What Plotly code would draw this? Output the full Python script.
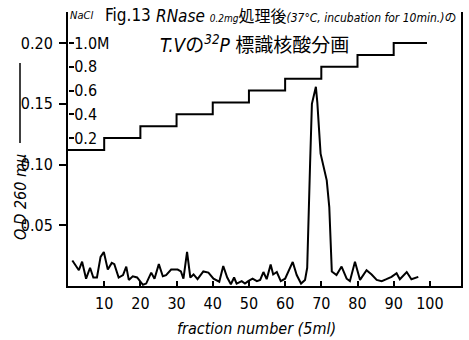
import plotly.graph_objects as go

# ---- data ----
fraction = [1.2, 3.0, 3.9, 5.0, 6.1, 7.0, 8.0, 9.0, 9.9, 11.0, 12.1, 12.8, 14.0, 15.2,
            16.1, 16.8, 17.9, 19.1, 20.7, 21.6, 23.0, 23.9, 25.1, 26.2, 27.1, 28.5,
            30.3, 31.2, 31.9, 32.9, 33.8, 34.7, 35.8, 37.4, 38.8, 40.2, 41.8, 42.9,
            44.0, 45.0, 45.9, 46.6, 48.0, 48.9, 49.8, 51.0, 52.2, 53.1, 54.0, 54.9,
            56.0, 56.7, 57.7, 58.8, 60.0, 60.9, 62.1, 63.2, 64.4, 65.5, 66.1, 66.9,
            67.4, 68.5, 68.9, 69.8, 71.5, 72.2, 72.9, 74.2, 75.6, 77.0, 77.9, 79.3,
            80.7, 82.5, 83.9, 85.3, 86.7, 88.0, 89.4, 90.8, 91.7, 93.6, 94.9, 96.8]
od260 = [0.021, 0.013, 0.020, 0.006, 0.015, 0.007, 0.007, 0.024, 0.028, 0.0135, 0.019, 0.018,
         0.007, 0.009, 0.016, 0.005, 0.008, 0.007, 0.001, 0.002, 0.011, 0.006, 0.018, 0.008,
         0.009, 0.0135, 0.0135, 0.012, 0.006, 0.028, 0.007, 0.0095, 0.0056, 0.012, 0.011,
         0.006, 0.0035, 0.0165, 0.007, 0.0014, 0.007, 0.002, 0.004, 0.002, 0.004, 0.006,
         0.004, 0.005, 0.0115, 0.0056, 0.0176, 0.0095, 0.0115, 0.004, 0.006, 0.0115, 0.0198,
         0.009, 0.002, 0.005, 0.015, 0.101, 0.150, 0.164, 0.151, 0.109, 0.087, 0.065, 0.012,
         0.009, 0.016, 0.006, 0.004, 0.020, 0.005, 0.013, 0.0095, 0.005, 0.004, 0.0056,
         0.0075, 0.0105, 0.0056, 0.0115, 0.0056, 0.0075]

nacl_x = [0, 10, 20, 30, 40, 50, 60, 70, 80, 90, 99.2]
nacl_m = [0.1, 0.2, 0.3, 0.4, 0.5, 0.6, 0.7, 0.8, 0.9, 1.0, 1.0]

x_ticks = [10, 20, 30, 40, 50, 60, 70, 80, 90, 100]
od_ticks = [0.05, 0.10, 0.15, 0.20]
od_labels = ["0.05", "0.10", "0.15", "0.20"]
nacl_ticks = [0.2, 0.4, 0.6, 0.8, 1.0]
nacl_labels = ["0.2", "0.4", "0.6", "0.8", "1.0M"]

# ---- layout geometry (pixels) ----
W, H = 469, 340
L, R, T, B = 68, 8, 12, 54
PW, PH = W - L - R, H - T - B
def px(xp):
    return (xp - L) / PW
def py(yp):
    return (H - B - yp) / PH

FONT = "Liberation Sans Narrow, DejaVu Sans Condensed, sans-serif"

fig = go.Figure()
fig.add_trace(go.Scatter(x=fraction, y=od260, mode="lines",
                         line=dict(color="black", width=2), showlegend=False))
fig.add_trace(go.Scatter(x=nacl_x, y=nacl_m, mode="lines", yaxis="y2",
                         line=dict(color="black", width=2, shape="hv"), showlegend=False))

fig.update_layout(
    width=W, height=H,
    margin=dict(l=L, r=R, t=T, b=B, autoexpand=False),
    paper_bgcolor="white", plot_bgcolor="white",
    font=dict(family=FONT, color="black"),
    xaxis=dict(range=[0, 108.6], tickvals=x_ticks, ticks="inside", ticklen=5,
               tickwidth=1.5, tickcolor="black", showline=True, linewidth=2,
               linecolor="black", showgrid=False, zeroline=False, automargin=False,
               tickfont=dict(size=16, family=FONT), ticklabelstandoff=2),
    yaxis=dict(range=[0, 0.2256], tickvals=od_ticks, ticktext=od_labels,
               ticks="outside", ticklen=7, tickwidth=1.5, tickcolor="black",
               showline=True, linewidth=2, linecolor="black", mirror=True,
               showgrid=False, zeroline=False, automargin=False,
               tickfont=dict(size=16, family=FONT), ticklabelstandoff=3),
    yaxis2=dict(range=[-1.046, 1.261], overlaying="y", anchor="free", position=0,
                side="right", tickvals=nacl_ticks, ticktext=nacl_labels,
                ticks="outside", ticklen=5, tickwidth=1.5, tickcolor="black",
                showline=False, showgrid=False, zeroline=False, automargin=False,
                tickfont=dict(size=16, family=FONT), ticklabelstandoff=-3),
)

ann = [
    dict(text="<i>NaCl</i>", x=px(68), y=py(16), xanchor="left", yanchor="middle",
         font=dict(size=11, family=FONT)),
    dict(text="Fig.13", x=px(103), y=py(15), xanchor="left", yanchor="middle",
         font=dict(size=17, family=FONT)),
    dict(text="<i>RNase</i> <i><span style='font-size:10px'>0.2mg</span></i>"
              "<span style='font-family:Noto Sans CJK JP;font-size:16px'>処理後</span>"
              "<i><span style='font-size:12px'>(37°C, incubation for 10min.)</span></i>"
              "<span style='font-family:Noto Sans CJK JP;font-size:12px'>の</span>",
         x=px(154), y=py(15), xanchor="left", yanchor="middle",
         font=dict(size=17, family=FONT)),
    dict(text="<i>T.V</i><span style='font-family:Noto Sans CJK JP'>の</span>"
              "<i><sup>32</sup>P</i> <span style='font-family:Noto Sans CJK JP'>標識核酸分画</span>",
         x=px(158), y=py(43), xanchor="left", yanchor="middle",
         font=dict(size=19, family=FONT)),
    dict(text="<i>fraction number (5ml)</i>", x=px(256), y=py(328),
         xanchor="center", yanchor="middle", font=dict(size=16, family=FONT)),
    dict(text="<i>O.D 260 mμ</i>", x=px(20), y=py(197), textangle=-90,
         xanchor="center", yanchor="middle", font=dict(size=16, family=FONT)),
]
for a in ann:
    a.update(xref="paper", yref="paper", showarrow=False)
fig.update_layout(annotations=ann)

fig.add_shape(type="line", xref="paper", yref="paper",
              x0=px(20), x1=px(20), y0=py(63), y1=py(143),
              line=dict(color="black", width=1.5))

fig.write_html("out.html", config={"displayModeBar": False},
               post_script="document.body.style.margin='0';")
